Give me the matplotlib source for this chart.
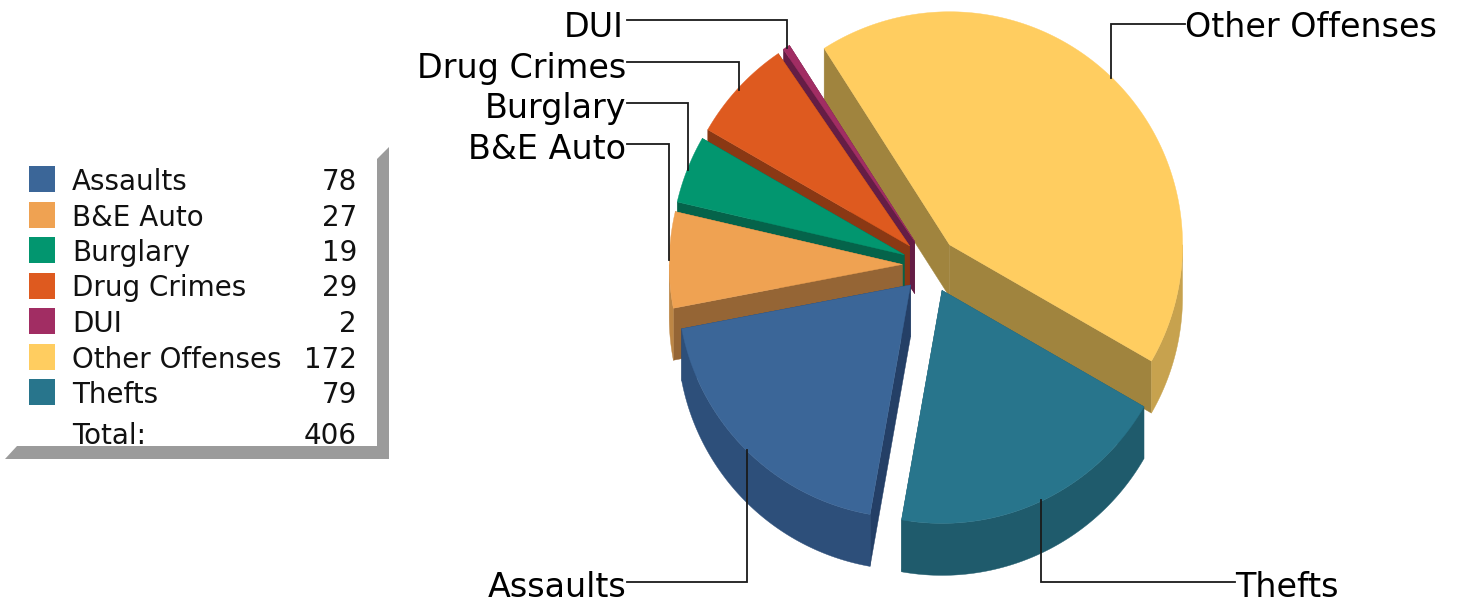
import numpy as np
import matplotlib
matplotlib.use('Agg')
import matplotlib.pyplot as plt
from matplotlib.patches import Polygon, Rectangle

# chart data, order is the legend order
categories = ['Assaults', 'B&E Auto', 'Burglary', 'Drug Crimes', 'DUI', 'Other Offenses', 'Thefts']
counts = [78, 27, 19, 29, 2, 172, 79]
total_label = 406

top_colors = ['#3B6698', '#EFA252', '#02966F', '#DE5A1F', '#A12D63', '#FFCD60', '#28758C']
wall_colors = ['#2D4F7A', '#BD8645', '#05634A', '#8A3814', '#651D45', '#C7A24E', '#1F5B6C']
side_colors = ['#243F66', '#956535', '#05634A', '#8A3814', '#651D45', '#A0843E', '#1F5B6C']

# pie geometry in pixels
center = (930.2, 265.0)
radius = 233
explode = 28
depth = 52
start_angle = 190  # clockwise from 12 o'clock, where Assaults begins
draw_order = [5, 4, 3, 2, 1, 0, 6]

# leader lines: label, text anchor, baseline y, elbow path
leaders = {
    'DUI': (624, 37, 'right', [(627, 20), (787, 20), (787, 48)]),
    'Drug Crimes': (626, 78, 'right', [(627, 62), (739, 62), (739, 90)]),
    'Burglary': (626, 118, 'right', [(627, 103), (688, 103), (688, 170)]),
    'B&E Auto': (626, 159, 'right', [(627, 144), (669, 144), (669, 260)]),
    'Assaults': (626, 597, 'right', [(627, 582), (747, 582), (747, 450)]),
    'Thefts': (1235, 597, 'left', [(1235, 582), (1041, 582), (1041, 500)]),
    'Other Offenses': (1185, 37, 'left', [(1185, 24), (1111, 24), (1111, 78)]),
}

fig = plt.figure(figsize=(14.58, 6.02), dpi=100)
ax = fig.add_axes([0, 0, 1, 1])
ax.set_xlim(0, 1458)
ax.set_ylim(602, 0)
ax.axis('off')


def arc_points(cx, cy, a0, a1):
    t = np.radians(np.linspace(a0, a1, max(int(abs(a1 - a0) * 2), 2)))
    return np.column_stack([cx + radius * np.sin(t), cy - radius * np.cos(t)])


def shifted(pts, dy):
    return pts + np.array([0, dy])


# work out the slice angles from the counts
sweeps = np.array(counts) / sum(counts) * 360
starts = start_angle + np.concatenate([[0], np.cumsum(sweeps)[:-1]])

for i in draw_order:
    a0 = starts[i]
    a1 = a0 + sweeps[i]
    mid = np.radians((a0 + a1) / 2)
    cx = center[0] + explode * np.sin(mid)
    cy = center[1] - explode * np.cos(mid)
    apex = np.array([[cx, cy]])
    arc = arc_points(cx, cy, a0, a1)

    # the two cut faces
    for edge in (arc[:1], arc[-1:]):
        face = np.vstack([apex, edge, shifted(edge, depth), shifted(apex, depth)])
        ax.add_patch(Polygon(face, closed=True, fc=side_colors[i], ec=side_colors[i], lw=0.3, zorder=2))

    # outer wall, only the part turned toward the viewer (90-270 degrees)
    for lo, hi in ((90, 270), (450, 630)):
        w0, w1 = max(a0, lo), min(a1, hi)
        if w1 > w0:
            wall = arc_points(cx, cy, w0, w1)
            ax.add_patch(Polygon(np.vstack([wall, shifted(wall, depth)[::-1]]), closed=True,
                                 fc=wall_colors[i], ec=wall_colors[i], lw=0.3, zorder=2))

    ax.add_patch(Polygon(np.vstack([apex, arc]), closed=True, fc=top_colors[i],
                         ec=top_colors[i], lw=0.3, zorder=2))

# callouts
for name, (tx, ty, ha, path) in leaders.items():
    xs, ys = zip(*path)
    ax.plot(xs, ys, color='#1a1a1a', lw=1.3, zorder=3, solid_joinstyle='miter')
    ax.text(tx, ty, name, ha=ha, va='baseline', fontsize=24, color='black', zorder=4)

# legend box, grey bevel on the right and bottom
bevel = [(389, 147), (389, 459), (5, 459), (17, 446), (377, 446), (377, 159)]
ax.add_patch(Polygon(bevel, closed=True, fc='#9B9B9B', ec='none', zorder=1))

row_h = 35.5
for i, name in enumerate(categories):
    y = 166 + i * row_h
    ax.add_patch(Rectangle((29, y), 26, 26, fc=top_colors[i], ec='none', zorder=2))
    ax.text(72, y + 24, name, fontsize=20, va='baseline', ha='left', color='#111111')
    ax.text(357, y + 24, str(counts[i]), fontsize=20, va='baseline', ha='right', color='#111111')
ax.text(72, 444, 'Total:', fontsize=20, va='baseline', ha='left', color='#111111')
ax.text(357, 444, str(total_label), fontsize=20, va='baseline', ha='right', color='#111111')

fig.savefig('out.png', dpi=100)
